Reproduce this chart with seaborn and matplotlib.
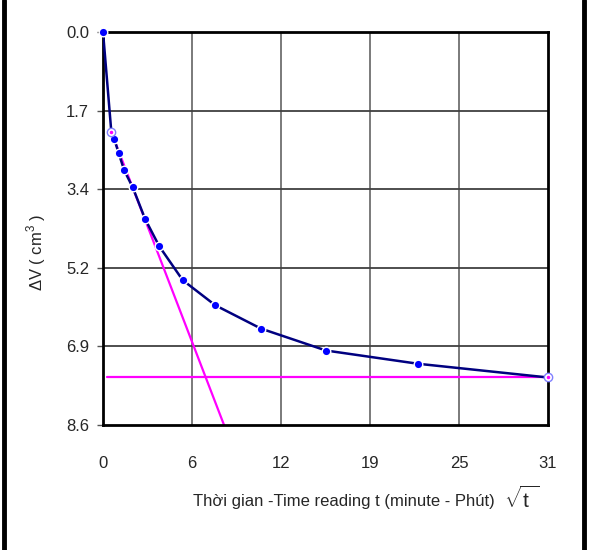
import numpy as np
import pandas as pd
import matplotlib
matplotlib.use("Agg")
import matplotlib.pyplot as plt
from matplotlib.lines import Line2D
import seaborn as sns

# dados (x = raiz do tempo, y = delta V)
sqrt_t = [0.0, 0.58, 0.79, 1.09, 1.48, 2.07, 2.93, 3.92, 5.55, 7.82, 11.0, 15.53, 21.94, 30.98]
delta_v = [0.0, 2.19, 2.35, 2.65, 3.03, 3.40, 4.09, 4.69, 5.43, 5.98, 6.49, 6.97, 7.26, 7.56]
# pontos marcados com circulo vazio
ponto_ini = (0.58, 2.19)
ponto_fim = (30.98, 7.56)
# tangente e assintota (magenta)
tangente_x = [0.58, 8.43]
tangente_y = [2.19, 8.6]
assintota_x = [0.3, 31.0]
assintota_y = [7.56, 7.56]

x_ticks = [0, 6.2, 12.4, 18.6, 24.8, 31]
x_labels = ["0", "6", "12", "19", "25", "31"]
y_ticks = [0, 1.72, 3.44, 5.16, 6.88, 8.6]
y_labels = ["0.0", "1.7", "3.4", "5.2", "6.9", "8.6"]

df = pd.DataFrame({"x": sqrt_t, "y": delta_v})

sns.set_style("white")
plt.rcParams["font.family"] = ["Liberation Sans", "DejaVu Sans"]
plt.rcParams["mathtext.fontset"] = "custom"
plt.rcParams["mathtext.rm"] = "Liberation Sans"

fig = plt.figure(figsize=(5.89, 5.5), dpi=100)
ax = fig.add_axes([0.1749, 0.2273, 0.7555, 0.7145])

# grade
for xt in x_ticks[1:-1]:
    ax.axvline(xt, color="#707070", lw=1.3, zorder=1)
for yt in y_ticks[1:-1]:
    ax.axhline(yt, color="#404040", lw=1.3, zorder=1)

# linhas magenta
ax.plot(tangente_x, tangente_y, color="#ff00ff", lw=1.6, zorder=2)
ax.plot(assintota_x, assintota_y, color="#ff00ff", lw=1.6, zorder=2)

# curva
sns.lineplot(data=df, x="x", y="y", color="#000080", lw=1.8, sort=False, ax=ax, zorder=3)
cheios = df.drop(index=[1, len(df) - 1])
sns.scatterplot(data=cheios, x="x", y="y", color="#0000ff", s=38, edgecolor="white",
                linewidth=1.0, ax=ax, zorder=4, clip_on=False)
for px, py in [ponto_ini, ponto_fim]:
    ax.plot(px, py, marker="o", ms=6, mfc="white", mec="#8080ff", mew=1.0, zorder=5, clip_on=False)
    ax.plot(px, py, marker="o", ms=1.5, color="#ff00ff", zorder=6, clip_on=False)

ax.set_xlim(0, 31)
ax.set_ylim(8.6, 0)
ax.set_xticks(x_ticks)
ax.set_xticklabels(x_labels)
ax.set_yticks(y_ticks)
ax.set_yticklabels(y_labels)
ax.tick_params(axis="x", length=0, pad=22, labelsize=12)
ax.tick_params(axis="y", length=4, width=1, color="#555555", pad=6, labelsize=12, left=True)
for s in ax.spines.values():
    s.set_color("black")
    s.set_linewidth(2)
    s.set_visible(True)

ax.set_xlabel("")
ax.set_ylabel("")
fig.text(0.061, 0.542, "ΔV ( cm$^3$ )", fontsize=12, rotation=90, va="center", ha="center")

fig.text(0.327, 0.088, "Thời gian -Time reading t (minute - Phút)", fontsize=12, va="center", ha="left")
fig.text(0.855, 0.094, r"$\sqrt{\mathrm{t}\ }$", fontsize=15, va="center", ha="left")

# moldura lateral da figura
fig.add_artist(Line2D([0.0068, 0.0068], [0, 1], color="black", lw=3.5, transform=fig.transFigure))
fig.add_artist(Line2D([0.9923, 0.9923], [0, 1], color="black", lw=3.5, transform=fig.transFigure))

fig.savefig("out.png", dpi=100)
